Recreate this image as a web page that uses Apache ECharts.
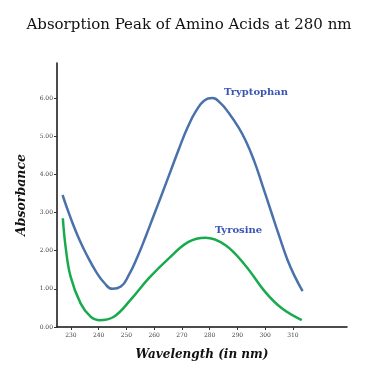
<!DOCTYPE html>
<html>
<head>
<meta charset="utf-8">
<script src="https://cdn.jsdelivr.net/npm/echarts@6/dist/echarts.min.js"></script>
<style>
  html, body { margin: 0; padding: 0; background: #fff; }
  #chart { width: 378px; height: 377px; }
</style>
</head>
<body>
<div id="chart"></div>
<script>
// tick labels
const xTicks = [230, 240, 250, 260, 270, 280, 290, 300, 310]
const yTicks = [0, 1, 2, 3, 4, 5, 6]

// Tryptophan curve (wavelength nm / absorbance)
const tryptophanWl = [227, 230, 233, 236, 239, 242, 245, 248, 251, 254, 257, 260, 263, 266, 269, 272, 275, 278, 281, 284, 287, 290, 293, 296, 299, 302, 305, 308, 311, 313.5]
const tryptophanAbs = [3.46, 2.84, 2.30, 1.85, 1.46, 1.16, 1.00, 1.06, 1.38, 1.84, 2.38, 2.95, 3.52, 4.10, 4.68, 5.22, 5.65, 5.93, 6.00, 5.86, 5.60, 5.28, 4.88, 4.36, 3.72, 3.06, 2.40, 1.77, 1.28, 0.94]

// Tyrosine curve
const tyrosineWl = [227.1, 228.1, 229.9, 233.5, 237.1, 240.1, 245.5, 251.5, 258.1, 265.3, 272.4, 278.5, 285.6, 292.8, 300.0, 306.0, 313.2]
const tyrosineAbs = [2.85, 2.10, 1.32, 0.62, 0.27, 0.18, 0.27, 0.71, 1.28, 1.80, 2.23, 2.34, 2.15, 1.62, 0.92, 0.49, 0.18]

const toPairs = (xs, ys) => xs.map((x, i) => [x, ys[i]])

const chart = echarts.init(document.getElementById('chart'))

const option = {
  backgroundColor: '#fff',
  animation: false,
  title: {
    text: 'Absorption Peak of Amino Acids at 280 nm',
    left: 'center',
    top: 13,
    textStyle: { fontFamily: 'DejaVu Serif', fontSize: 15, fontWeight: 'normal', color: '#111' }
  },
  grid: { left: 57, right: 31, top: 63, bottom: 50 },
  xAxis: {
    type: 'value',
    min: 225,
    max: 329.5,
    name: 'Wavelength (in nm)',
    nameLocation: 'middle',
    nameGap: 22,
    nameTextStyle: { fontFamily: 'DejaVu Serif', fontSize: 12, fontWeight: 'bold', fontStyle: 'italic', color: '#111' },
    axisLine: { lineStyle: { color: '#111', width: 1.5 } },
    axisTick: { customValues: xTicks, length: 3, lineStyle: { color: '#333' } },
    axisLabel: { customValues: xTicks, fontFamily: 'DejaVu Serif', fontSize: 6, color: '#444', margin: 5 },
    splitLine: { show: false }
  },
  yAxis: {
    type: 'value',
    min: 0,
    max: 6.92,
    name: 'Absorbance',
    nameLocation: 'middle',
    nameGap: 21,
    nameTextStyle: { fontFamily: 'DejaVu Serif', fontSize: 12.5, fontWeight: 'bold', fontStyle: 'italic', color: '#111' },
    axisLine: { show: true, lineStyle: { color: '#111', width: 1.5 } },
    axisTick: { show: true, customValues: yTicks, length: 3, lineStyle: { color: '#333' } },
    axisLabel: {
      customValues: yTicks,
      fontFamily: 'DejaVu Serif', fontSize: 6, color: '#444', margin: 4,
      formatter: v => v.toFixed(2)
    },
    splitLine: { show: false }
  },
  graphic: [
    {
      type: 'text', left: 224, top: 87,
      style: { text: 'Tryptophan', font: 'bold 10px DejaVu Serif', fill: '#3b55b5' }
    },
    {
      type: 'text', left: 215, top: 225,
      style: { text: 'Tyrosine', font: 'bold 10px DejaVu Serif', fill: '#3b55b5' }
    }
  ],
  series: [
    {
      name: 'Tryptophan',
      type: 'line',
      smooth: 0.5,
      showSymbol: false,
      data: toPairs(tryptophanWl, tryptophanAbs),
      lineStyle: { color: '#4a72aa', width: 2.5 }
    },
    {
      name: 'Tyrosine',
      type: 'line',
      smooth: 0.4,
      showSymbol: false,
      data: toPairs(tyrosineWl, tyrosineAbs),
      lineStyle: { color: '#1aaa4e', width: 2.5 }
    }
  ]
}

chart.setOption(option)
</script>
</body>
</html>
